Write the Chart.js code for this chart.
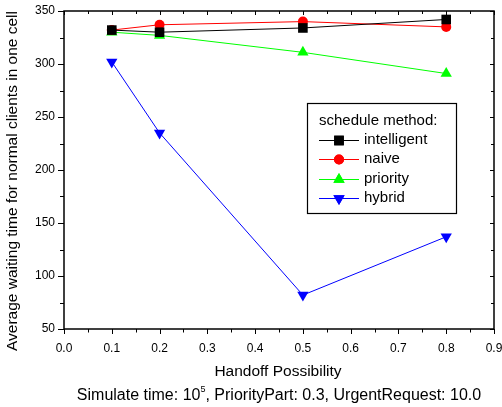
<!DOCTYPE html>
<html>
<head>
<meta charset="utf-8">
<script src="https://cdn.jsdelivr.net/npm/chart.js@4.4.0/dist/chart.umd.min.js"></script>
<style>
html,body{margin:0;padding:0;background:#fff;}
#wrap{width:502px;height:407px;position:relative;}
</style>
</head>
<body>
<div id="wrap"><canvas id="c" width="502" height="407"></canvas></div>
<script>
const xValues = [0.1, 0.2, 0.5, 0.8];
const intelligent = [332, 330, 334, 342];
const naive = [332, 337, 340, 335];
const priority = [330, 327, 311, 291];
const hybrid = [302, 235, 82, 137];
const seriesNames = ['intelligent', 'naive', 'priority', 'hybrid'];
const xTicks = [0.0, 0.1, 0.2, 0.3, 0.4, 0.5, 0.6, 0.7, 0.8, 0.9];
const yTicks = [50, 100, 150, 200, 250, 300, 350];
const legendTitle = 'schedule method:';
const xTitle = 'Handoff Possibility';
const yTitle = 'Average waiting time for normal clients in one cell';

const FONT = '"Liberation Sans", Arial, sans-serif';

function pts(vals){ return xValues.map((x,i)=>({x:x,y:vals[i]})); }

const styles = [
  {color:'#000000', pointStyle:'rect', radius:6.8, rotation:0},
  {color:'#ff0000', pointStyle:'circle', radius:5, rotation:0},
  {color:'#00ff00', pointStyle:'triangle', radius:6.5, rotation:0},
  {color:'#0000ff', pointStyle:'triangle', radius:6.5, rotation:180}
];
const allVals = [intelligent, naive, priority, hybrid];

const datasets = allVals.map((v,i)=>({
  label: seriesNames[i],
  data: pts(v),
  borderColor: styles[i].color,
  backgroundColor: styles[i].color,
  borderWidth: 1,
  pointStyle: styles[i].pointStyle,
  pointRadius: styles[i].radius,
  pointRotation: styles[i].rotation,
  pointBorderWidth: 0,
  pointBackgroundColor: styles[i].color,
  tension: 0
}));

const decor = {
  id: 'decor',
  afterDraw(chart){
    const ctx = chart.ctx;
    const a = chart.chartArea;
    const xs = chart.scales.x, ys = chart.scales.y;
    ctx.save();
    ctx.strokeStyle = '#000';
    ctx.lineWidth = 1.5;
    ctx.strokeRect(a.left, a.top, a.right - a.left, a.bottom - a.top);
    ctx.lineWidth = 1;
    ctx.beginPath();
    for (let k = 0; k <= 18; k++) {
      const v = k * 0.05;
      const px = Math.round(xs.getPixelForValue(v)) + 0.5;
      const major = k % 2 === 0;
      const lo = major ? 5 : 3.5;
      const hi = major ? 4 : 3;
      ctx.moveTo(px, a.bottom); ctx.lineTo(px, a.bottom + lo);
      ctx.moveTo(px, a.top); ctx.lineTo(px, a.top + hi);
    }
    for (let k = 0; k <= 12; k++) {
      const v = 50 + k * 25;
      const py = Math.round(ys.getPixelForValue(v)) + 0.5;
      const major = k % 2 === 0;
      const lo = major ? 6 : 4;
      const hi = major ? 4 : 3;
      ctx.moveTo(a.left, py); ctx.lineTo(a.left - lo, py);
      ctx.moveTo(a.right, py); ctx.lineTo(a.right - hi, py);
    }
    ctx.stroke();

    ctx.fillStyle = '#000';
    ctx.font = '15.5px ' + FONT;
    ctx.textAlign = 'center';
    ctx.textBaseline = 'middle';
    ctx.fillText(xTitle, 278, 372);
    ctx.save();
    ctx.font = '15.5px ' + FONT;
    ctx.translate(13, 181);
    ctx.rotate(-Math.PI/2);
    ctx.fillText(yTitle, 0, 0);
    ctx.restore();

    const p1 = 'Simulate time: 10', sup = '5', p2 = ', PriorityPart: 0.3, UrgentRequest: 10.0';
    ctx.font = '16px ' + FONT;
    const w1 = ctx.measureText(p1).width, w3 = ctx.measureText(p2).width;
    ctx.font = '9px ' + FONT;
    const w2 = ctx.measureText(sup).width;
    let x0 = 279 - (w1 + w2 + w3) / 2;
    ctx.textAlign = 'left';
    ctx.font = '16px ' + FONT;
    ctx.fillText(p1, x0, 396);
    ctx.font = '9px ' + FONT;
    ctx.fillText(sup, x0 + w1, 390);
    ctx.font = '16px ' + FONT;
    ctx.fillText(p2, x0 + w1 + w2, 396);

    const lx = 307, ly = 103, lw = 149, lh = 110;
    ctx.lineWidth = 1.2;
    ctx.fillStyle = '#fff';
    ctx.fillRect(lx, ly, lw, lh);
    ctx.strokeStyle = '#000';
    ctx.strokeRect(lx + 0.5, ly + 0.5, lw, lh);
    ctx.fillStyle = '#000';
    ctx.font = '15px ' + FONT;
    ctx.textAlign = 'left';
    ctx.fillText(legendTitle, 319, 121);
    const rows = [140, 159, 179, 198];
    chart.data.datasets.forEach((ds, i) => {
      const y = rows[i];
      ctx.strokeStyle = ds.borderColor;
      ctx.lineWidth = 1;
      ctx.beginPath();
      ctx.moveTo(319, y + 0.5); ctx.lineTo(359, y + 0.5);
      ctx.stroke();
      ctx.fillStyle = ds.borderColor;
      Chart.helpers.drawPoint(ctx, {pointStyle: ds.pointStyle, radius: ds.pointRadius, rotation: ds.pointRotation, borderWidth: 0}, 339, y + 0.5);
      ctx.fill();
      ctx.fillStyle = '#000';
      ctx.fillText(ds.label, 364, y);
    });
    ctx.restore();
  }
};

new Chart(document.getElementById('c'), {
  type: 'line',
  data: { datasets: datasets },
  options: {
    responsive: false,
    animation: false,
    devicePixelRatio: 1,
    layout: { padding: { top: 11, right: 8, left: 0, bottom: 0 } },
    plugins: { legend: { display: false }, tooltip: { enabled: false }, title: { display: false } },
    scales: {
      x: {
        type: 'linear', min: 0, max: 0.9,
        afterBuildTicks(s){ s.ticks = xTicks.map(v=>({value:v})); },
        afterFit(s){ s.height = 78; s.paddingLeft = 0; s.paddingRight = 0; },
        ticks: { padding: 12, color: '#000', font: { family: FONT, size: 12 }, maxRotation: 0, autoSkip: false,
          callback: v => Number(v).toFixed(1) },
        grid: { display: false, drawTicks: false },
        border: { display: false }
      },
      y: {
        type: 'linear', min: 50, max: 350,
        afterBuildTicks(s){ s.ticks = yTicks.map(v=>({value:v})); },
        afterFit(s){ s.width = 64; s.paddingTop = 0; s.paddingBottom = 0; },
        ticks: { padding: 9, color: '#000', font: { family: FONT, size: 12 }, autoSkip: false,
          callback: v => String(v) },
        grid: { display: false, drawTicks: false },
        border: { display: false }
      }
    }
  },
  plugins: [decor]
});
</script>
</body>
</html>
